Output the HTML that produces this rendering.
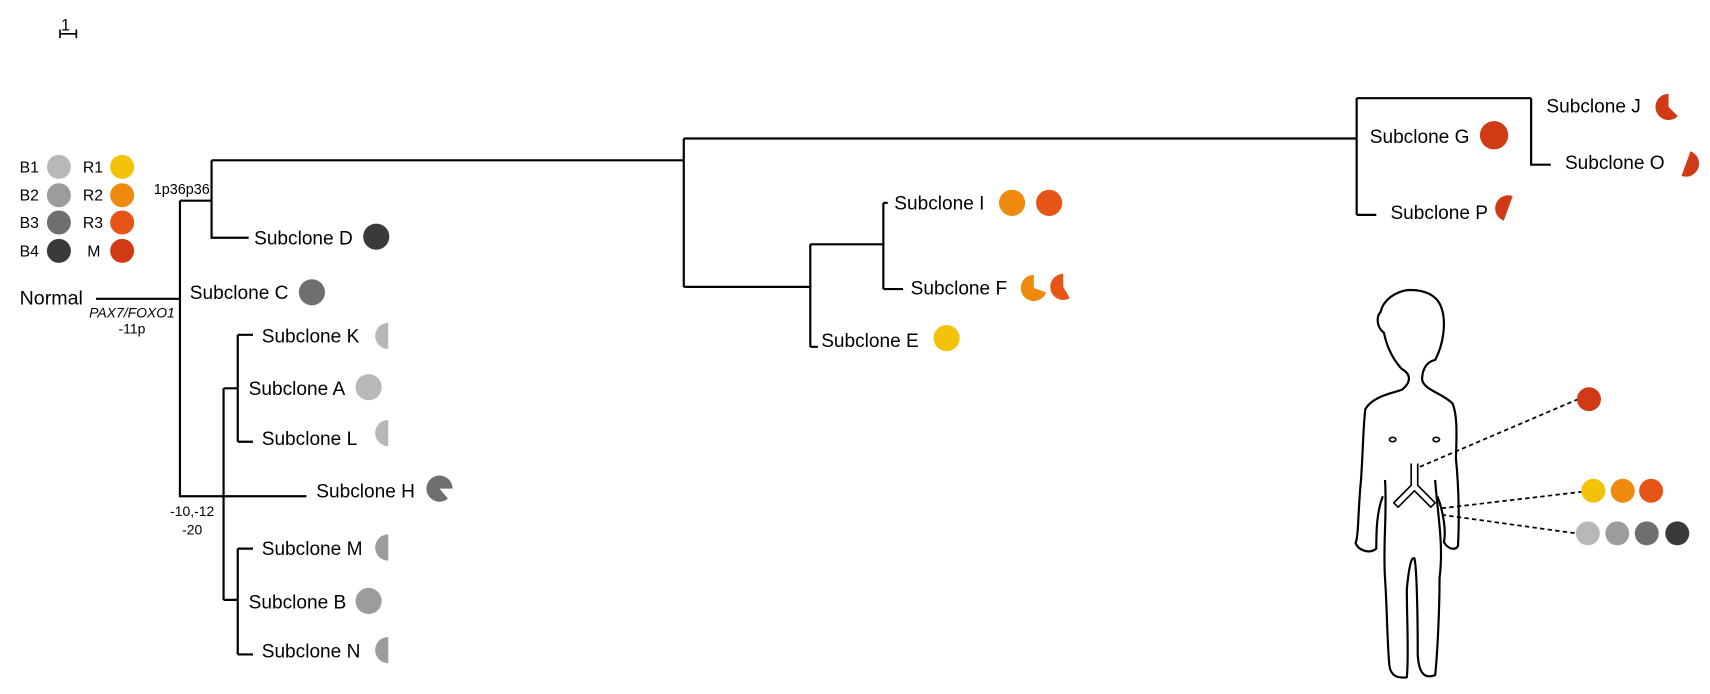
<!DOCTYPE html>
<html><head><meta charset="utf-8"><style>
html,body{margin:0;padding:0;background:#fff}
svg{display:block}
text{font-family:"Liberation Sans",Arial,sans-serif;fill:#000}
</style></head><body>
<svg id="s" width="1710" height="694" viewBox="0 0 1568 636.3" preserveAspectRatio="none" xmlns="http://www.w3.org/2000/svg">
<g stroke="#000" stroke-width="2" fill="none">
<path d="M55 31H70M55 27V35M70 27V35" stroke-width="1.5"/>
<path d="M88 274H165M165 184V455H281M165 184H194M194 147V218H228"/>
<path d="M205 356V550M205 356H218M205 550H218M218 307V405M218 307H232M218 405H232M218 503V600M218 503H232M218 600H232"/>
<path d="M194 147H627M627 127V263M627 127H1244M627 263H743M743 224V318M743 318H750M743 224H810M810 186V265M810 186H814M810 265H828"/>
<path d="M1244 90V197M1244 90H1404M1404 90V151H1422M1244 197H1262"/>
</g>
<text x="56" y="28" font-size="15">1</text>
<g font-size="14.5">
<text x="18" y="158">B1</text><text x="18" y="184">B2</text><text x="18" y="209">B3</text><text x="18" y="235">B4</text>
<text x="76" y="158">R1</text><text x="76" y="184">R2</text><text x="76" y="209">R3</text><text x="80" y="235">M</text>
</g>
<g>
<circle cx="54" cy="153" r="11" fill="#b8b8b8"/><circle cx="54" cy="179" r="11" fill="#9c9c9c"/><circle cx="54" cy="204" r="11" fill="#6f6f6f"/><circle cx="54" cy="230" r="11" fill="#3a3a3a"/>
<circle cx="112" cy="153" r="11" fill="#f5c20a"/><circle cx="112" cy="179" r="11" fill="#ef8a0e"/><circle cx="112" cy="204" r="11" fill="#e65517"/><circle cx="112" cy="230" r="11" fill="#d03a14"/>
</g>
<text x="18" y="279" font-size="18">Normal</text>
<text x="141" y="178" font-size="13.2">1p36p36</text>
<text x="121" y="291" font-size="12.8" font-style="italic" text-anchor="middle">PAX7/FOXO1</text>
<text x="121" y="306" font-size="12.8" text-anchor="middle">-11p</text>
<text x="156" y="473" font-size="12.8">-10,-12</text>
<text x="167" y="490" font-size="12.8">-20</text>
<g font-size="17.5">
<text x="233" y="224">Subclone D</text>
<text x="174" y="274">Subclone C</text>
<text x="240" y="314">Subclone K</text>
<text x="228" y="362">Subclone A</text>
<text x="240" y="408">Subclone L</text>
<text x="290" y="456">Subclone H</text>
<text x="240" y="509">Subclone M</text>
<text x="228" y="558">Subclone B</text>
<text x="240" y="603">Subclone N</text>
<text x="753" y="318">Subclone E</text>
<text x="820" y="192">Subclone I</text>
<text x="835" y="270">Subclone F</text>
<text x="1256" y="131">Subclone G</text>
<text x="1275" y="201">Subclone P</text>
<text x="1418" y="103">Subclone J</text>
<text x="1435" y="155">Subclone O</text>
</g>
<g id="pies"></g>
<circle cx="345" cy="217" r="12" fill="#3a3a3a"/>
<circle cx="286" cy="268" r="12" fill="#6f6f6f"/>
<circle cx="338" cy="355" r="12" fill="#b8b8b8"/>
<circle cx="338" cy="551" r="12" fill="#9c9c9c"/>
<circle cx="868" cy="310" r="12" fill="#f5c20a"/>
<circle cx="928" cy="186" r="12" fill="#ef8a0e"/>
<circle cx="962" cy="186" r="12" fill="#e65517"/>
<circle cx="1370" cy="124" r="13" fill="#d03a14"/>
<g stroke="#000" stroke-width="2" fill="none" stroke-linejoin="round">
<path d="M1285 338C1278 330 1272 320 1269 305 1262 300 1262 290 1266 286 1268 276 1278 268 1290 266 1305 265 1318 270 1322 283 1326 295 1324 315 1316 330 1306 332 1304 342 1304 348 1306 358 1322 360 1332 370 1336 380 1336 395 1335 420 1338 450 1338 480 1337 498 1338 505 1328 505 1324 497 1326 488 1324 470 1318 455 1316 440L1314 400"/>
<path d="M1285 338C1296 344 1292 352 1286 357 1280 360 1260 362 1252 375 1250 390 1250 410 1248 440 1245 470 1246 490 1243 498 1246 505 1256 508 1262 503 1262 490 1262 470 1268 455 1270 440L1270 400"/>
<path d="M1270 440C1272 470 1268 500 1270 530 1272 560 1272 590 1274 610 1275 620 1282 622 1290 621 1292 600 1290 570 1290 540 1292 520 1294 510 1297 512 1299 520 1300 560 1300 600 1301 620 1308 622 1316 619 1318 600 1320 560 1320 530 1324 500 1318 470 1316 440"/>
<ellipse cx="1277" cy="403" rx="3" ry="2" stroke-width="1.5"/><ellipse cx="1317" cy="403" rx="3" ry="2" stroke-width="1.5"/>
<path d="M1294 425V445L1278 461 1282 465 1297 450 1312 465 1316 461 1300 445V425" stroke-width="1.5"/>
</g>
<g stroke="#000" stroke-width="1.6" stroke-dasharray="4 3" fill="none">
<path d="M1302 428L1447 366M1322 466L1450 451M1322 472L1445 489"/>
</g>
<circle cx="1457" cy="366" r="11" fill="#d03a14"/>
<circle cx="1461" cy="450" r="11" fill="#f5c20a"/><circle cx="1488" cy="450" r="11" fill="#ef8a0e"/><circle cx="1514" cy="450" r="11" fill="#e65517"/>
<circle cx="1456" cy="489" r="11" fill="#b8b8b8"/><circle cx="1483" cy="489" r="11" fill="#9c9c9c"/><circle cx="1510" cy="489" r="11" fill="#6f6f6f"/><circle cx="1538" cy="489" r="11" fill="#3a3a3a"/>
</svg>
<script>
function pie(cx,cy,r,a1,a2,col){
 var rad=Math.PI/180,x1=cx+r*Math.cos(a1*rad),y1=cy+r*Math.sin(a1*rad),x2=cx+r*Math.cos(a2*rad),y2=cy+r*Math.sin(a2*rad);
 var large=((a2-a1+360)%360)>180?1:0;
 var p=document.createElementNS("http://www.w3.org/2000/svg","path");
 p.setAttribute("d","M"+cx+" "+cy+"L"+x1+" "+y1+"A"+r+" "+r+" 0 "+large+" 1 "+x2+" "+y2+"Z");
 p.setAttribute("fill",col);document.getElementById("pies").appendChild(p);
}
pie(356,308,12,90,270,"#b8b8b8");
pie(356,397,12,90,270,"#b8b8b8");
pie(356,502,12,90,270,"#9c9c9c");
pie(356,596,12,90,270,"#9c9c9c");
pie(403,448,12,50,360,"#6f6f6f");
pie(948,264,12,20,270,"#ef8a0e");
pie(975,263,12,60,270,"#e65517");
pie(1530,98,12,45,270,"#d03a14");
pie(1546,150,12,-70,110,"#d03a14");
pie(1383,191,12,110,290,"#d03a14");
</script>
</body></html>
